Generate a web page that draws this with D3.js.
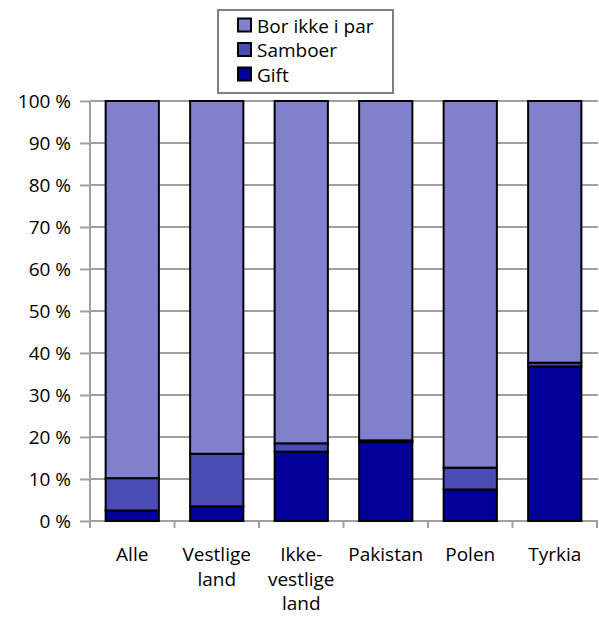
<!DOCTYPE html>
<html><head><meta charset="utf-8">
<script src="https://cdn.jsdelivr.net/npm/d3@7/dist/d3.min.js"></script>
<style>body{margin:0;background:#fff}svg{display:block}text{font-family:"Open Sans","Noto Sans",sans-serif;fill:#000}</style>
</head><body><svg id="c" width="599" height="621"></svg>
<script>
const categories = ["Alle", "Vestlige\nland", "Ikke-\nvestlige\nland", "Pakistan", "Polen", "Tyrkia"];
const gift = [2.5, 3.5, 16.5, 18.8, 7.5, 36.8];
const samboer = [7.7, 12.5, 2.0, 0.4, 5.2, 0.9];
const borIkke = [89.8, 84.0, 81.5, 80.8, 87.3, 62.3];
const seriesNames = ["Gift", "Samboer", "Bor ikke i par"];
const colors = ["#000099", "#4B4BB4", "#8080CC"];
const yTicks = [0,10,20,30,40,50,60,70,80,90,100];

(function(){
const FS = 19;
const svg = d3.select("#c");
const pL = 90, pR = 597, pT = 101, pB = 521;
const x = d3.scaleBand().domain(d3.range(categories.length)).range([pL, pR]).paddingInner(0.37).paddingOuter(0.185);
const xb = d3.scaleBand().domain(d3.range(categories.length)).range([pL, pR]);
const y = d3.scaleLinear().domain([0,100]).range([pB, pT]);

// gridlines
svg.append("g").selectAll("line").data(yTicks.slice(1)).join("line")
  .attr("x1", pL).attr("x2", 598).attr("y1", d=>y(d)).attr("y2", d=>y(d))
  .attr("stroke", "#a0a0a0").attr("stroke-width", 2);

// y axis
const ya = svg.append("g").attr("transform", `translate(${pL},0)`)
  .call(d3.axisLeft(y).tickValues(yTicks).tickSize(10).tickPadding(9).tickFormat(d=>d+" %"));
ya.attr("font-size", FS).attr("font-family", '"Open Sans","Noto Sans",sans-serif');
ya.select(".domain").attr("stroke", "#a0a0a0").attr("stroke-width", 2).attr("d", `M0,${pT}V${pB}`);
ya.selectAll(".tick line").attr("stroke", "#a0a0a0").attr("stroke-width", 2);
ya.selectAll(".tick text").attr("fill", "#000").attr("dy", "0.33em");

// x axis
const xa = svg.append("g").attr("transform", `translate(0,${pB})`)
  .call(d3.axisBottom(xb).tickValues([]).tickSizeOuter(0));
xa.select(".domain").attr("stroke", "#a0a0a0").attr("stroke-width", 2).attr("d", `M${pL},0H598`);
svg.append("g").selectAll("line").data(d3.range(categories.length+1)).join("line")
  .attr("x1", d=> d<categories.length ? xb(d) : pR).attr("x2", d=> d<categories.length ? xb(d) : pR)
  .attr("y1", pB).attr("y2", pB+7).attr("stroke", "#a0a0a0").attr("stroke-width", 2);

// x labels
svg.append("g").selectAll("text").data(categories).join("text")
  .attr("x", (d,i)=>xb(i)+xb.bandwidth()/2).attr("y", 561)
  .attr("text-anchor", "middle").attr("font-size", FS)
  .each(function(d){
    const t = d3.select(this);
    d.split("\n").forEach((l,k)=> t.append("tspan").attr("x", t.attr("x")).attr("dy", k?24.5:0).text(l));
  });

// stacked bars
const rows = categories.map((c,i)=>({i, Gift:gift[i], Samboer:samboer[i], "Bor ikke i par":borIkke[i]}));
const stack = d3.stack().keys(seriesNames)(rows);
svg.append("g").selectAll("g").data(stack).join("g").attr("fill", (d,k)=>colors[k])
  .selectAll("rect").data(d=>d).join("rect")
  .attr("x", d=>x(d.data.i)).attr("width", x.bandwidth())
  .attr("y", d=>y(d[1])).attr("height", d=>y(d[0])-y(d[1]))
  .attr("stroke", "#000").attr("stroke-width", 2);

// legend
const lg = svg.append("g");
lg.append("rect").attr("x", 218).attr("y", 10).attr("width", 175).attr("height", 83)
  .attr("fill", "#fff").attr("stroke", "#808080").attr("stroke-width", 2);
const legendItems = ["Bor ikke i par", "Samboer", "Gift"];
const legendColors = [colors[2], colors[1], colors[0]];
legendItems.forEach((n,k)=>{
  const cy = 25.5 + k*24.5;
  lg.append("rect").attr("x", 238).attr("y", cy-7).attr("width", 13).attr("height", 13)
    .attr("fill", legendColors[k]).attr("stroke", "#000").attr("stroke-width", 2);
  lg.append("text").attr("x", 257).attr("y", cy+7).attr("font-size", FS).text(n);
});
})();
</script></body></html>
